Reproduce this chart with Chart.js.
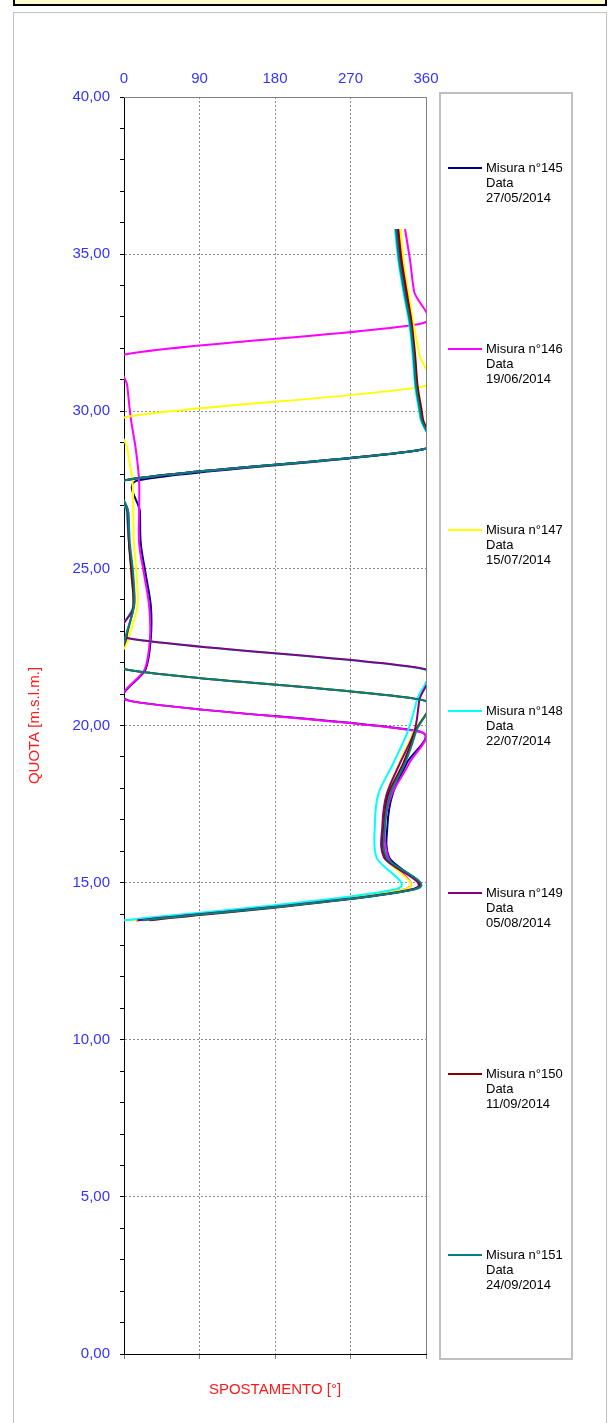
<!DOCTYPE html>
<html>
<head>
<meta charset="utf-8">
<script src="https://cdn.jsdelivr.net/npm/chart.js@4.4.1/dist/chart.umd.min.js"></script>
<style>
    html, body { margin: 0; padding: 0; background: #fff; width: 610px; height: 1423px; overflow: hidden; font-family: 'Liberation Sans', Arial, sans-serif; }
    .banner { position: absolute; left: 13px; top: -20px; width: 590px; height: 22px; background: #ffffcc; border: 2px solid #000; }
    .frame { position: absolute; left: 13px; top: 12px; width: 592px; height: 1440px; border: 1px solid #c0c0c0; }
    #wrap { position: absolute; left: 0; top: 0; width: 440px; height: 1423px; }
    .legend { position: absolute; left: 439px; top: 92px; width: 130px; height: 1264px; border: 2px solid #c0c0c0; }
    .voce { position: absolute; left: 448px; width: 120px; height: 45px; }
    .voce .linea { position: absolute; left: 0; top: 7px; width: 34px; height: 2px; }
    .voce .testo { position: absolute; left: 38px; top: 0; font-size: 13px; line-height: 15px; color: #000; white-space: nowrap; }
</style>
</head>
<body>
<div class="banner"></div>
<div class="frame"></div>
<div id="wrap"><canvas id="grafico" width="440" height="1423"></canvas></div>
<div class="legend"></div>
<div id="voci"></div>
<script>
// quote di misura [m s.l.m.]
const quote = [35.8, 34.8, 33.8, 32.8, 31.8, 30.8, 29.8, 28.8, 27.8, 26.8, 25.8, 24.8,
    23.8, 22.8, 21.8, 20.8, 19.8, 18.8, 17.8, 16.8, 15.8, 14.8, 13.8];

// direzione spostamento [°] per ogni misura
const m145 = [325, 329, 335, 341, 345, 349, 354, 358, 17, 19, 20, 26, 32, 32, 26, 5, 353, 337, 320, 314, 316, 346, 14];
const m146 = [335, 341, 346, 356, 0, 4, 8, 14, 18, 18, 18, 24, 30, 31, 25, 4, 353, 340, 319, 311, 315, 336, 15];
const m147 = [330, 333, 339, 345, 352, 358, 0, 4, 10, 11, 12, 15, 16, 6, 0, 358, 345, 328, 313, 309, 311, 336, 8];
const m148 = [323, 327, 333, 340, 344, 347, 353, 358, 1, 3, 6, 9, 11, 1, 356, 349, 338, 321, 303, 299, 301, 325, 0];
const m149 = [326, 330, 336, 342, 346, 349, 355, 358, 1, 4, 6, 10, 12, 1, 358, 352, 346, 329, 313, 308, 310, 345, 16];
const m150 = [327, 331, 337, 343, 347, 350, 356, 358, 0, 5, 6, 9, 11, 3, 0, 357, 347, 333, 315, 310, 312, 347, 30];
const m151 = [324, 328, 334, 341, 345, 348, 354, 358, 1, 5, 7, 11, 12, 2, 0, 357, 348, 335, 317, 311, 313, 348, 22];

const misure = [m145, m146, m147, m148, m149, m150, m151];
const etichette = ['Misura n°145', 'Misura n°146', 'Misura n°147', 'Misura n°148', 'Misura n°149', 'Misura n°150', 'Misura n°151'];
const date = ['27/05/2014', '19/06/2014', '15/07/2014', '22/07/2014', '05/08/2014', '11/09/2014', '24/09/2014'];
const colori = ['#000080', '#ff00ff', '#ffff00', '#00ffff', '#800080', '#800000', '#008080'];

const blu = '#3333ff';
const rosso = '#ff1a1a';
const griglia = '#8c8c8c';

Chart.defaults.font.family = "'Liberation Sans', Arial, sans-serif";

// linee smussate "alla Excel": tangente (succ - prec)/6,
// accorciata verso il lato del segmento corto
function smussa(punti) {
    const n = punti.length;
    for (let i = 0; i < n; i++) {
        const p = punti[i];
        const a = punti[Math.max(i - 1, 0)];
        const b = punti[Math.min(i + 1, n - 1)];
        const tx = (b.x - a.x) / 6;
        const ty = (b.y - a.y) / 6;
        const len = Math.hypot(tx, ty) || 1;
        const dPrec = Math.hypot(p.x - a.x, p.y - a.y);
        const dSucc = Math.hypot(b.x - p.x, b.y - p.y);
        const kPrec = Math.min(1, 0.5 * dPrec / len);
        const kSucc = Math.min(1, 0.5 * dSucc / len);
        p.cp1x = p.x - tx * kPrec;
        p.cp1y = p.y - ty * kPrec;
        p.cp2x = p.x + tx * kSucc;
        p.cp2y = p.y + ty * kSucc;
    }
}

const cornice = {
    id: 'cornice',
    beforeDatasetsDraw(chart) {
        chart.getSortedVisibleDatasetMetas().forEach(function (meta) {
            smussa(meta.data);
            meta.dataset._pointsUpdated = true;
        });
        // bordo grigio in alto e a destra dell'area del grafico
        const ctx = chart.ctx;
        const a = chart.chartArea;
        ctx.save();
        ctx.strokeStyle = '#808080';
        ctx.lineWidth = 1;
        ctx.beginPath();
        ctx.moveTo(a.left, a.top + 0.5);
        ctx.lineTo(a.right + 0.5, a.top + 0.5);
        ctx.lineTo(a.right + 0.5, a.bottom);
        ctx.stroke();
        ctx.restore();
    }
};

const datasets = misure.map(function (valori, i) {
    return {
        label: etichette[i],
        data: valori.map((v, k) => ({ x: v, y: quote[k] })),
        borderColor: colori[i],
        backgroundColor: colori[i],
        borderWidth: 2,
        pointRadius: 0,
        showLine: true,
        tension: 0.4,
        fill: false,
        order: misure.length - i
    };
});

new Chart(document.getElementById('grafico'), {
    type: 'scatter',
    data: { datasets: datasets },
    options: {
        responsive: false,
        animation: false,
        devicePixelRatio: 1,
        layout: { padding: { left: 0, top: 0, right: 14, bottom: 0 } },
        elements: { line: { capBezierPoints: false } },
        plugins: { legend: { display: false }, tooltip: { enabled: false } },
        scales: {
            x: {
                type: 'linear',
                position: 'top',
                min: 0,
                max: 360,
                ticks: { stepSize: 90, color: blu, font: { size: 15 }, padding: 9 },
                grid: {
                    drawTicks: false,
                    color: c => (c.tick && (c.tick.value === 0 || c.tick.value === 360)) ? 'rgba(0,0,0,0)' : griglia
                },
                border: { display: false, dash: [2, 2] },
                afterFit: s => { s.height = 97; s.paddingLeft = 0; s.paddingRight = 0; }
            },
            x2: {
                type: 'linear',
                position: 'bottom',
                min: 0,
                max: 360,
                ticks: { stepSize: 90, display: false },
                grid: { drawOnChartArea: false, drawTicks: true, tickLength: 5, tickColor: '#808080' },
                border: { color: '#000', width: 1 },
                title: { display: true, text: 'SPOSTAMENTO [°]', color: rosso, font: { size: 15 }, padding: { top: 0, bottom: 24 } },
                afterFit: s => { s.height = 69; s.paddingLeft = 0; s.paddingRight = 0; }
            },
            y: {
                type: 'linear',
                position: 'left',
                min: 0,
                max: 40,
                ticks: {
                    stepSize: 1,
                    autoSkip: false,
                    color: blu,
                    font: { size: 15 },
                    padding: 10,
                    callback: v => v % 5 === 0 ? v.toFixed(2).replace('.', ',') : ''
                },
                grid: {
                    drawTicks: true,
                    tickLength: 4,
                    tickColor: '#000',
                    color: c => (c.tick && c.tick.value % 5 === 0 && c.tick.value !== 0 && c.tick.value !== 40) ? griglia : 'rgba(0,0,0,0)'
                },
                border: { color: '#000', width: 1, dash: [2, 2] },
                title: { display: true, text: 'QUOTA [m.s.l.m.]', color: rosso, font: { size: 15 }, padding: { top: 26, bottom: 0 } },
                afterFit: s => { s.width = 124; }
            }
        }
    },
    plugins: [cornice]
});

// legenda a destra, voci distribuite nell'altezza del riquadro
const voci = document.getElementById('voci');
const passo = 1268 / etichette.length;
etichette.forEach(function (nome, i) {
    const voce = document.createElement('div');
    voce.className = 'voce';
    voce.style.top = (92 + i * passo + 68) + 'px';
    const linea = document.createElement('div');
    linea.className = 'linea';
    linea.style.background = colori[i];
    const testo = document.createElement('div');
    testo.className = 'testo';
    testo.innerHTML = nome + '<br>Data<br>' + date[i];
    voce.appendChild(linea);
    voce.appendChild(testo);
    voci.appendChild(voce);
});
</script>
</body>
</html>
